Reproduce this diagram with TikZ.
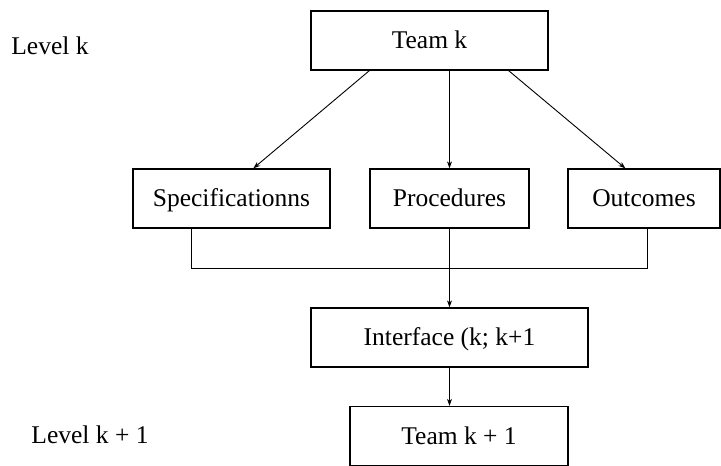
\documentclass[tikz,border=0pt]{standalone}
\usepackage{fontspec}
\setmainfont{Liberation Serif}
\usetikzlibrary{arrows.meta}
\tikzstyle{process} = [rectangle, minimum height = 59pt, inner sep = 0pt, 
	text height = 20pt, text depth = 4pt, text centered, 
	line width = 1.3pt, draw = black]
\tikzstyle{link} = [line width = 0.9pt, -{Stealth[length = 7pt, width = 5pt]}]

\begin{document}
\begin{tikzpicture}[x = 1pt, y = -1pt, font = \fontsize{25.5}{30}\selectfont]

\useasboundingbox (0,0) rectangle (721,466);

\node (levelk) at (50,46) {Level k};
\node (levelnext) at (90,435) {Level k + 1};

\node (teamk) [process, minimum width = 237pt] at (429.5,40.5) {Team k};

\node (spec) [process, minimum width = 197pt] at (231.5,198.5) {Specificationns};
\node (proc) [process, minimum width = 159pt] at (449.5,198.5) {Procedures};
\node (outc) [process, minimum width = 152pt] at (644,198.5) {Outcomes};

\node (iface) [process, minimum width = 277pt] at (449.5,337.5) {Interface (k; k+1};
\node (nextteam) [process, minimum width = 218pt] at (459,436) {Team k + 1};

\draw [link] ([xshift = 59pt]teamk.south west) -- ([xshift = 121pt]spec.north west);
\draw [link] (proc.north |- teamk.south) -- (proc.north);
\draw [link] ([xshift = -40pt]teamk.south east) -- ([xshift = 58pt]outc.north west);

\draw [line width = 0.9pt] ([xshift = 59pt]spec.south west) -- ++(0,40) 
	-| ([xshift = 80pt]outc.south west);
\draw [link] (proc.south) -- (iface.north);
\draw [link] (iface.south) -- (iface.south |- nextteam.north);

\end{tikzpicture}
\end{document}
